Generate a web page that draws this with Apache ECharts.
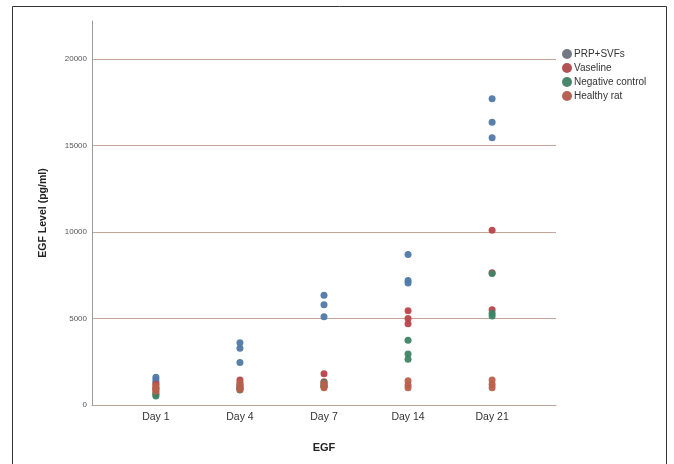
<!DOCTYPE html>
<html>
<head>
<meta charset="utf-8">
<script src="https://cdn.jsdelivr.net/npm/echarts@6/dist/echarts.min.js"></script>
<style>
  html, body { margin: 0; padding: 0; background: #fff; }
  #chart { width: 674px; height: 464px; }
</style>
</head>
<body>
<div id="chart"></div>
<script>
// categories on the x axis
const days = ['Day 1', 'Day 4', 'Day 7', 'Day 14', 'Day 21'];
const yTicks = [0, 5000, 10000, 15000, 20000];

// values per group, three animals per day
const prpSvfs = [
  [1600, 1450, 1300],
  [3600, 3280, 2450],
  [6350, 5800, 5100],
  [8700, 7200, 7050],
  [17700, 16350, 15450]
];
const vaseline = [
  [1200, 1000, 900],
  [1450, 1200, 1000],
  [1800, 1350, 1100],
  [5450, 5000, 4700],
  [10100, 7650, 5500]
];
const negControl = [
  [700, 600, 520],
  [1100, 950, 870],
  [1300, 1150, 1050],
  [3750, 2950, 2650],
  [7600, 5300, 5150]
];
const healthyRat = [
  [1100, 950, 800],
  [1300, 1050, 900],
  [1250, 1100, 1000],
  [1400, 1150, 1000],
  [1450, 1200, 1000]
];

function toPoints(groups) {
  const pts = [];
  groups.forEach((vals, i) => vals.forEach(v => pts.push([i, v])));
  return pts;
}

const groups = [
  { name: 'PRP+SVFs', data: prpSvfs, color: '#4f79a6', legend: '#6d717d' },
  { name: 'Vaseline', data: vaseline, color: '#b8444a', legend: '#b0484a' },
  { name: 'Negative control', data: negControl, color: '#3f8466', legend: '#3f7f66' },
  { name: 'Healthy rat', data: healthyRat, color: '#b8604a', legend: '#b25a4c' }
];

const chart = echarts.init(document.getElementById('chart'));
chart.setOption({
  animation: false,
  backgroundColor: '#fff',
  graphic: [{
    type: 'rect',
    shape: { x: 12.5, y: 6.5, width: 654, height: 470 },
    style: { fill: 'none', stroke: '#333', lineWidth: 1 },
    silent: true
  }],
  grid: { left: 92, top: 21, right: 118, bottom: 59 },
  legend: {
    orient: 'vertical',
    left: 557,
    top: 44,
    itemWidth: 10,
    itemHeight: 10,
    itemGap: 4,
    icon: 'circle',
    textStyle: { fontFamily: 'Liberation Sans', fontSize: 10, color: '#333', padding: [0, 0, 0, -3] },
    data: groups.map(g => ({ name: g.name, itemStyle: { color: g.legend } }))
  },
  xAxis: {
    type: 'value',
    min: -0.76,
    max: 4.76,
    name: 'EGF',
    nameLocation: 'middle',
    nameGap: 37,
    nameTextStyle: { fontFamily: 'Liberation Sans', fontSize: 11, fontWeight: 'bold', color: '#222' },
    axisLine: { lineStyle: { color: '#b9a39a', width: 1.2 } },
    axisTick: { show: false },
    splitLine: { show: false },
    axisLabel: {
      customValues: [0, 1, 2, 3, 4],
      formatter: v => days[Math.round(v)],
      fontFamily: 'Liberation Sans',
      fontSize: 10.5,
      color: '#333',
      margin: 7
    }
  },
  yAxis: {
    type: 'value',
    min: 0,
    max: 22200,
    interval: 5000,
    name: 'EGF Level (pg/ml)',
    nameLocation: 'middle',
    nameGap: 43,
    nameTextStyle: { fontFamily: 'Liberation Sans', fontSize: 10.5, fontWeight: 'bold', color: '#222' },
    axisLine: { show: true, onZero: false, lineStyle: { color: '#9a9a9a', width: 1 } },
    axisTick: { show: false },
    axisLabel: {
      customValues: yTicks,
      formatter: v => String(v),
      fontFamily: 'Liberation Sans',
      fontSize: 8,
      color: '#555',
      margin: 5
    },
    splitLine: {
      show: true,
      showMinLine: false,
      showMaxLine: false,
      lineStyle: { color: '#c4a69a', width: 1 }
    }
  },
  series: groups.map(g => ({
    type: 'scatter',
    name: g.name,
    symbolSize: 7,
    itemStyle: { color: g.color, opacity: 0.95 },
    data: toPoints(g.data)
  }))
});
</script>
</body>
</html>
